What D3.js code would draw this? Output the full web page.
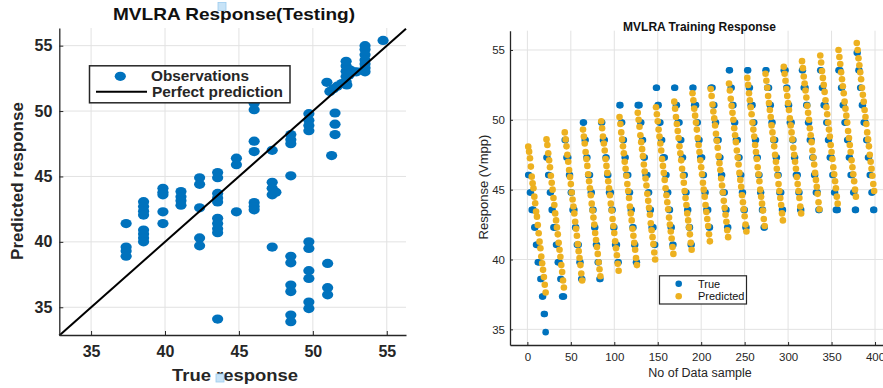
<!DOCTYPE html>
<html><head><meta charset="utf-8">
<script src="https://cdn.jsdelivr.net/npm/d3@7"></script>
<style>
body{margin:0;background:#fff;}
svg{display:block;font-family:"Liberation Sans",Arial,Helvetica,sans-serif;}
</style>
</head><body>
<svg id="c" width="883" height="388"></svg>
<script>
// ---------- Testing (left) ----------
const testTrue = [
  37.37,37.37,37.37,37.37,
  38.55,38.55,38.55,38.55,38.55,38.55,38.55,38.55,
  39.86,39.86,39.86,39.86,39.86,
  41.08,41.08,41.08,41.08,
  42.34,42.34,42.34,42.34,42.34,
  43.56,43.56,43.56,43.56,43.56,43.56,43.56,43.56,43.56,43.56,
  44.83,44.83,44.83,
  46.03,46.03,46.03,46.03,46.03,46.03,46.03,
  47.25,47.25,47.25,47.25,47.5,47.25,
  48.51,48.51,48.51,48.51,48.51,48.51,48.51,48.51,48.51,48.51,
  49.73,49.73,49.73,49.73,49.73,49.73,49.73,49.73,49.73,49.73,
  50.95,51.0,51.0,51.0,51.27,51.5,51.5,51.5,
  51.15,51.4,51.65,51.95,52.25,52.25,52.25,52.25,52.25,52.3,52.5,52.75,52.95,52.45,
  53.53,53.53,53.53,53.53,53.53,53.53,53.53,
  54.75
];
const testPred = [
  41.4,39.6,39.3,38.9,
  43.07,42.7,42.35,42.05,40.9,40.6,40.3,40.0,
  44.1,43.8,43.6,42.3,41.4,
  43.85,43.45,43.15,42.8,
  44.9,44.4,42.6,40.3,39.7,
  45.3,44.9,43.7,43.35,43.05,41.8,41.4,41.0,40.7,34.1,
  46.4,45.9,42.3,
  50.6,50.1,47.7,46.9,43.0,42.7,42.45,
  47.0,44.55,44.1,43.6,43.8,39.6,
  48.2,47.8,47.5,45.05,38.9,38.4,36.7,36.2,34.4,33.9,
  49.8,49.3,48.9,48.5,40.0,39.5,37.8,37.2,35.4,34.9,
  52.2,38.35,36.5,35.95,46.6,49.85,49.0,48.2,
  51.5,51.7,51.9,52.1,52.25,52.65,53.05,53.45,53.8,52.0,53.15,53.0,53.0,52.75,
  55.0,54.7,54.3,53.9,53.6,53.3,53.0,
  55.4
];
const testTicks = [35,40,45,50,55];

// ---------- Training (right), 19 runs of 21 samples ----------
const trainTrue = [
  46.05,46.05,44.8,44.8,43.55,43.55,43.55,42.3,42.3,41.05,41.05,39.8,39.8,39.8,38.6,38.6,37.35,37.35,36.1,36.1,34.8,
  47.3,47.3,46.05,46.05,44.8,44.8,43.55,43.55,42.3,42.3,42.3,41.05,41.05,39.8,39.8,39.8,38.6,38.6,37.35,37.35,37.35,
  48.55,48.55,47.3,47.3,47.3,46.05,46.05,44.8,44.8,43.55,43.55,43.55,42.3,42.3,41.05,41.05,41.05,39.8,39.8,38.6,38.6,
  49.8,49.8,48.55,48.55,47.3,47.3,46.05,46.05,46.05,44.8,44.8,43.55,43.55,42.3,42.3,41.05,41.05,39.8,39.8,38.6,38.6,
  49.8,49.8,48.55,48.55,48.55,47.3,47.3,46.05,46.05,44.8,44.8,44.8,43.55,43.55,42.3,42.3,41.05,41.05,41.05,39.8,39.8,
  51.05,51.05,49.8,49.8,48.55,48.55,47.3,47.3,46.05,46.05,46.05,44.8,44.8,43.55,43.55,42.3,42.3,41.05,41.05,39.8,39.8,
  51.05,51.05,51.05,49.8,49.8,48.55,48.55,47.3,47.3,46.05,46.05,46.05,44.8,44.8,43.55,43.55,42.3,42.3,42.3,41.05,41.05,
  52.3,52.3,51.05,51.05,49.8,49.8,48.55,48.55,47.3,47.3,47.3,46.05,46.05,44.8,44.8,43.55,43.55,42.3,42.3,41.05,41.05,
  52.3,52.3,51.05,51.05,49.8,49.8,49.8,48.55,48.55,47.3,47.3,46.05,46.05,44.8,44.8,43.55,43.55,42.3,42.3,41.05,41.05,
  52.3,52.3,51.05,51.05,51.05,49.8,49.8,48.55,48.55,47.3,47.3,47.3,46.05,46.05,44.8,44.8,43.55,43.55,43.55,42.3,42.3,
  52.3,52.3,52.3,51.05,51.05,49.8,49.8,48.55,48.55,48.55,47.3,47.3,46.05,46.05,44.8,44.8,44.8,43.55,43.55,42.3,42.3,
  53.55,53.55,52.3,52.3,51.05,51.05,49.8,49.8,48.55,48.55,48.55,47.3,47.3,46.05,46.05,44.8,44.8,43.55,43.55,42.3,42.3,
  53.55,53.55,52.3,52.3,51.05,51.05,51.05,49.8,49.8,48.55,48.55,47.3,47.3,46.05,46.05,44.8,44.8,43.55,43.55,42.3,42.3,
  53.55,53.55,52.3,52.3,52.3,51.05,51.05,49.8,49.8,48.55,48.55,48.55,47.3,47.3,46.05,46.05,44.8,44.8,44.8,43.55,43.55,
  53.55,53.55,53.55,52.3,52.3,51.05,51.05,49.8,49.8,49.8,48.55,48.55,47.3,47.3,46.05,46.05,46.05,44.8,44.8,43.55,43.55,
  53.55,53.55,52.3,52.3,52.3,51.05,51.05,49.8,49.8,48.55,48.55,48.55,47.3,47.3,46.05,46.05,44.8,44.8,44.8,43.55,43.55,
  53.55,53.55,52.3,52.3,51.05,51.05,51.05,49.8,49.8,48.55,48.55,47.3,47.3,47.3,46.05,46.05,44.8,44.8,43.55,43.55,43.55,
  53.55,53.55,53.55,52.3,52.3,51.05,51.05,49.8,49.8,49.8,48.55,48.55,47.3,47.3,46.05,46.05,46.05,44.8,44.8,43.55,43.55,
  54.8,54.8,53.55,53.55,52.3,52.3,51.05,51.05,49.8,49.8,49.8,48.55,48.55,47.3,47.3,46.05,46.05,44.8,44.8,43.55,43.55
];
const trainPred = [
  48.08,47.72,47.25,46.65,45.93,45.46,45.1,44.5,44.03,43.43,43.07,42.47,41.88,41.28,40.81,40.21,39.73,39.26,38.74,38.19,37.64,
  48.6,48.2,47.6,47.1,46.6,46.0,45.5,45.0,44.4,43.9,43.3,42.8,42.3,41.8,41.2,40.7,40.2,39.6,39.1,38.5,38.0,
  49.1,48.6,48.1,47.5,47.0,46.4,45.9,45.4,44.8,44.3,43.8,43.3,42.7,42.2,41.7,41.1,40.6,40.1,39.6,39.0,38.5,
  49.3,48.8,48.3,47.7,47.2,46.7,46.1,45.6,45.1,44.6,44.0,43.5,43.0,42.5,41.9,41.4,40.9,40.4,39.8,39.3,38.8,
  49.9,49.4,48.8,48.3,47.8,47.2,46.7,46.2,45.6,45.1,44.6,44.0,43.5,42.9,42.4,41.9,41.3,40.8,40.3,39.7,39.2,
  50.2,49.7,49.1,48.6,48.1,47.6,47.0,46.5,46.0,45.4,44.9,44.4,43.8,43.3,42.8,42.2,41.7,41.2,40.7,40.1,39.6,
  50.5,50.0,49.5,48.9,48.4,47.9,47.4,46.8,46.3,45.8,45.3,44.7,44.2,43.7,43.2,42.6,42.1,41.6,41.1,40.5,40.0,
  50.9,50.4,49.9,49.3,48.8,48.3,47.8,47.2,46.7,46.2,45.7,45.1,44.6,44.1,43.6,43.0,42.5,42.0,41.5,40.9,40.4,
  51.3,50.8,50.2,49.7,49.2,48.7,48.1,47.6,47.1,46.5,46.0,45.5,44.9,44.4,43.9,43.3,42.8,42.3,41.8,41.2,40.7,
  51.9,51.4,50.8,50.3,49.8,49.3,48.7,48.2,47.7,47.1,46.6,46.1,45.5,45.0,44.5,43.9,43.4,42.9,42.4,41.8,41.3,
  52.2,51.7,51.1,50.6,50.1,49.6,49.0,48.5,48.0,47.4,46.9,46.4,45.8,45.3,44.8,44.2,43.7,43.2,42.7,42.1,41.6,
  52.6,52.1,51.5,51.0,50.5,50.0,49.4,48.9,48.4,47.8,47.3,46.8,46.2,45.7,45.2,44.6,44.1,43.6,43.1,42.5,42.0,
  53.0,52.5,51.9,51.4,50.9,50.4,49.8,49.3,48.8,48.2,47.7,47.2,46.6,46.1,45.6,45.0,44.5,44.0,43.5,42.9,42.4,
  53.3,52.8,52.3,51.7,51.2,50.7,50.2,49.6,49.1,48.6,48.1,47.5,47.0,46.5,46.0,45.4,44.9,44.4,43.9,43.3,42.8,
  53.8,53.3,52.8,52.2,51.7,51.2,50.7,50.1,49.6,49.1,48.6,48.0,47.5,47.0,46.5,45.9,45.4,44.9,44.4,43.8,43.3,
  54.2,53.7,53.1,52.6,52.1,51.6,51.0,50.5,50.0,49.4,48.9,48.4,47.8,47.3,46.8,46.2,45.7,45.2,44.7,44.1,43.6,
  54.6,54.1,53.5,53.0,52.5,52.0,51.4,50.9,50.4,49.8,49.3,48.8,48.2,47.7,47.2,46.6,46.1,45.6,45.1,44.5,44.0,
  55.0,54.5,54.0,53.4,52.9,52.4,51.9,51.3,50.8,50.3,49.8,49.2,48.7,48.2,47.7,47.1,46.6,46.1,45.6,45.0,44.5,
  55.5,55.0,54.4,53.9,53.4,52.9,52.3,51.8,51.3,50.7,50.2,49.7,49.1,48.6,48.1,47.5,47.0,46.5,46.0,45.4,44.9
];
const trainXTicks = [0,50,100,150,200,250,300,350,400];
const trainYTicks = [35,40,45,50,55];

const BLUE = "#0072BD", YELLOW = "#EDB120", AXIS = "#262626", GRID = "#e2e2e2";
const svg = d3.select("#c");

function styleAxis(g){
  g.selectAll(".domain").attr("stroke", AXIS).attr("stroke-width", 1.3);
  g.selectAll(".tick line").attr("stroke", AXIS);
  g.selectAll(".tick text").attr("fill", AXIS);
}

// ================= LEFT =================
{
  const x = d3.scaleLinear().domain([32.85, 56.3]).range([59.3, 406]);
  const y = d3.scaleLinear().domain([32.88, 56.35]).range([335, 28]);
  const g = svg.append("g");
  g.append("g").selectAll("line").data(testTicks).join("line")
    .attr("x1", d => x(d)).attr("x2", d => x(d)).attr("y1", y.range()[0]).attr("y2", y.range()[1])
    .attr("stroke", GRID).attr("stroke-width", 1);
  g.append("g").selectAll("line").data(testTicks).join("line")
    .attr("y1", d => y(d)).attr("y2", d => y(d)).attr("x1", x.range()[0]).attr("x2", x.range()[1])
    .attr("stroke", GRID).attr("stroke-width", 1);

  g.append("g").selectAll("ellipse").data(testTrue.map((t, i) => [t, testPred[i]])).join("ellipse")
    .attr("cx", d => x(d[0])).attr("cy", d => y(d[1])).attr("rx", 5.6).attr("ry", 4.6).attr("fill", BLUE);

  const lo = x.domain()[0], hi = x.domain()[1];
  g.append("line").attr("x1", x(lo)).attr("y1", y(lo)).attr("x2", x(hi)).attr("y2", y(hi))
    .attr("stroke", "#000").attr("stroke-width", 2);

  const xa = g.append("g").attr("transform", `translate(0,${y.range()[0]})`)
    .call(d3.axisBottom(x).tickValues(testTicks).tickSizeInner(-4).tickSizeOuter(0).tickPadding(11));
  const ya = g.append("g").attr("transform", `translate(${x.range()[0]},0)`)
    .call(d3.axisLeft(y).tickValues(testTicks).tickSizeInner(-4).tickSizeOuter(0).tickPadding(7));
  [xa, ya].forEach(a => { styleAxis(a); a.selectAll(".tick text").attr("font-size", 16).attr("font-weight", "bold").attr("font-family", "Liberation Sans, Arial"); });

  g.append("text").attr("x", 234).attr("y", 20).attr("text-anchor", "middle")
    .attr("font-size", 17).attr("font-weight", "bold").attr("fill", "#111")
    .attr("textLength", 242).attr("lengthAdjust", "spacingAndGlyphs").text("MVLRA Response(Testing)");
  g.append("text").attr("transform", "translate(23,181) rotate(-90)").attr("text-anchor", "middle")
    .attr("font-size", 17).attr("font-weight", "bold").attr("fill", AXIS).text("Predicted response");
  g.append("text").attr("x", 235).attr("y", 381).attr("text-anchor", "middle")
    .attr("font-size", 17).attr("font-weight", "bold").attr("fill", AXIS)
    .attr("textLength", 126).attr("lengthAdjust", "spacingAndGlyphs").text("True response");

  // legend
  const lg = g.append("g");
  lg.append("rect").attr("x", 89.5).attr("y", 65.8).attr("width", 200.5).attr("height", 37)
    .attr("fill", "#fff").attr("stroke", AXIS).attr("stroke-width", 1.5);
  lg.append("ellipse").attr("cx", 120.3).attr("cy", 76.3).attr("rx", 5.6).attr("ry", 4.6).attr("fill", BLUE);
  lg.append("line").attr("x1", 96).attr("x2", 147).attr("y1", 91.7).attr("y2", 91.7).attr("stroke", "#000").attr("stroke-width", 2);
  lg.append("text").attr("x", 151).attr("y", 81).attr("font-size", 15).attr("font-weight", "bold").attr("fill", AXIS)
    .attr("textLength", 98).attr("lengthAdjust", "spacingAndGlyphs").text("Observations");
  lg.append("text").attr("x", 152).attr("y", 97).attr("font-size", 15).attr("font-weight", "bold").attr("fill", AXIS)
    .attr("textLength", 131).attr("lengthAdjust", "spacingAndGlyphs").text("Perfect prediction");

  // small datatip artefacts
  g.append("rect").attr("x", 218).attr("y", 2.5).attr("width", 8).attr("height", 8).attr("fill", "#c7e3f7").attr("stroke", "#9ccbee").attr("stroke-width", 0.8);
  g.append("rect").attr("x", 216).attr("y", 374).attr("width", 8).attr("height", 8).attr("fill", "#c7e3f7").attr("stroke", "#9ccbee").attr("stroke-width", 0.8);
}

// ================= RIGHT =================
{
  const x = d3.scaleLinear().domain([-20, 420]).range([510, 892.4]);
  const y = d3.scaleLinear().domain([33.88, 56.38]).range([345, 30.7]);
  const g = svg.append("g");
  g.append("g").selectAll("line").data(trainXTicks).join("line")
    .attr("x1", d => x(d)).attr("x2", d => x(d)).attr("y1", y.range()[0]).attr("y2", y.range()[1])
    .attr("stroke", GRID).attr("stroke-width", 1);
  g.append("g").selectAll("line").data(trainYTicks).join("line")
    .attr("y1", d => y(d)).attr("y2", d => y(d)).attr("x1", x.range()[0]).attr("x2", x.range()[1])
    .attr("stroke", GRID).attr("stroke-width", 1);

  g.append("g").selectAll("circle").data(trainTrue).join("circle")
    .attr("cx", (d, i) => x(i + 1)).attr("cy", d => y(d)).attr("r", 3.3).attr("fill", BLUE);
  g.append("g").selectAll("circle").data(trainPred).join("circle")
    .attr("cx", (d, i) => x(i + 1)).attr("cy", d => y(d)).attr("r", 3.3).attr("fill", YELLOW);

  const xa = g.append("g").attr("transform", `translate(0,${y.range()[0]})`)
    .call(d3.axisBottom(x).tickValues(trainXTicks).tickSizeInner(-3).tickSizeOuter(0).tickPadding(7.5));
  const ya = g.append("g").attr("transform", `translate(${x.range()[0]},0)`)
    .call(d3.axisLeft(y).tickValues(trainYTicks).tickSizeInner(-3).tickSizeOuter(0).tickPadding(5));
  [xa, ya].forEach(a => { styleAxis(a); a.selectAll(".tick text").attr("font-size", 11.5).attr("font-family", "Liberation Sans, Arial"); });

  g.append("text").attr("x", 699.5).attr("y", 31).attr("text-anchor", "middle")
    .attr("font-size", 12).attr("font-weight", "bold").attr("fill", "#111").text("MVLRA Training Response");
  g.append("text").attr("transform", "translate(487.5,187) rotate(-90)").attr("text-anchor", "middle")
    .attr("font-size", 13).attr("fill", AXIS).text("Response (Vmpp)");
  g.append("text").attr("x", 700).attr("y", 376.5).attr("text-anchor", "middle")
    .attr("font-size", 12.5).attr("fill", AXIS).text("No of Data sample");

  const lg = g.append("g");
  lg.append("rect").attr("x", 659.5).attr("y", 275.8).attr("width", 87).attr("height", 28.2)
    .attr("fill", "#fff").attr("stroke", AXIS).attr("stroke-width", 1.2);
  lg.append("circle").attr("cx", 678.7).attr("cy", 283.7).attr("r", 3.3).attr("fill", BLUE);
  lg.append("circle").attr("cx", 678.7).attr("cy", 296.3).attr("r", 3.3).attr("fill", YELLOW);
  lg.append("text").attr("x", 698).attr("y", 287.6).attr("font-size", 11).attr("fill", "#111").text("True");
  lg.append("text").attr("x", 698).attr("y", 300.4).attr("font-size", 11).attr("fill", "#111").text("Predicted");
}
</script>
</body></html>
